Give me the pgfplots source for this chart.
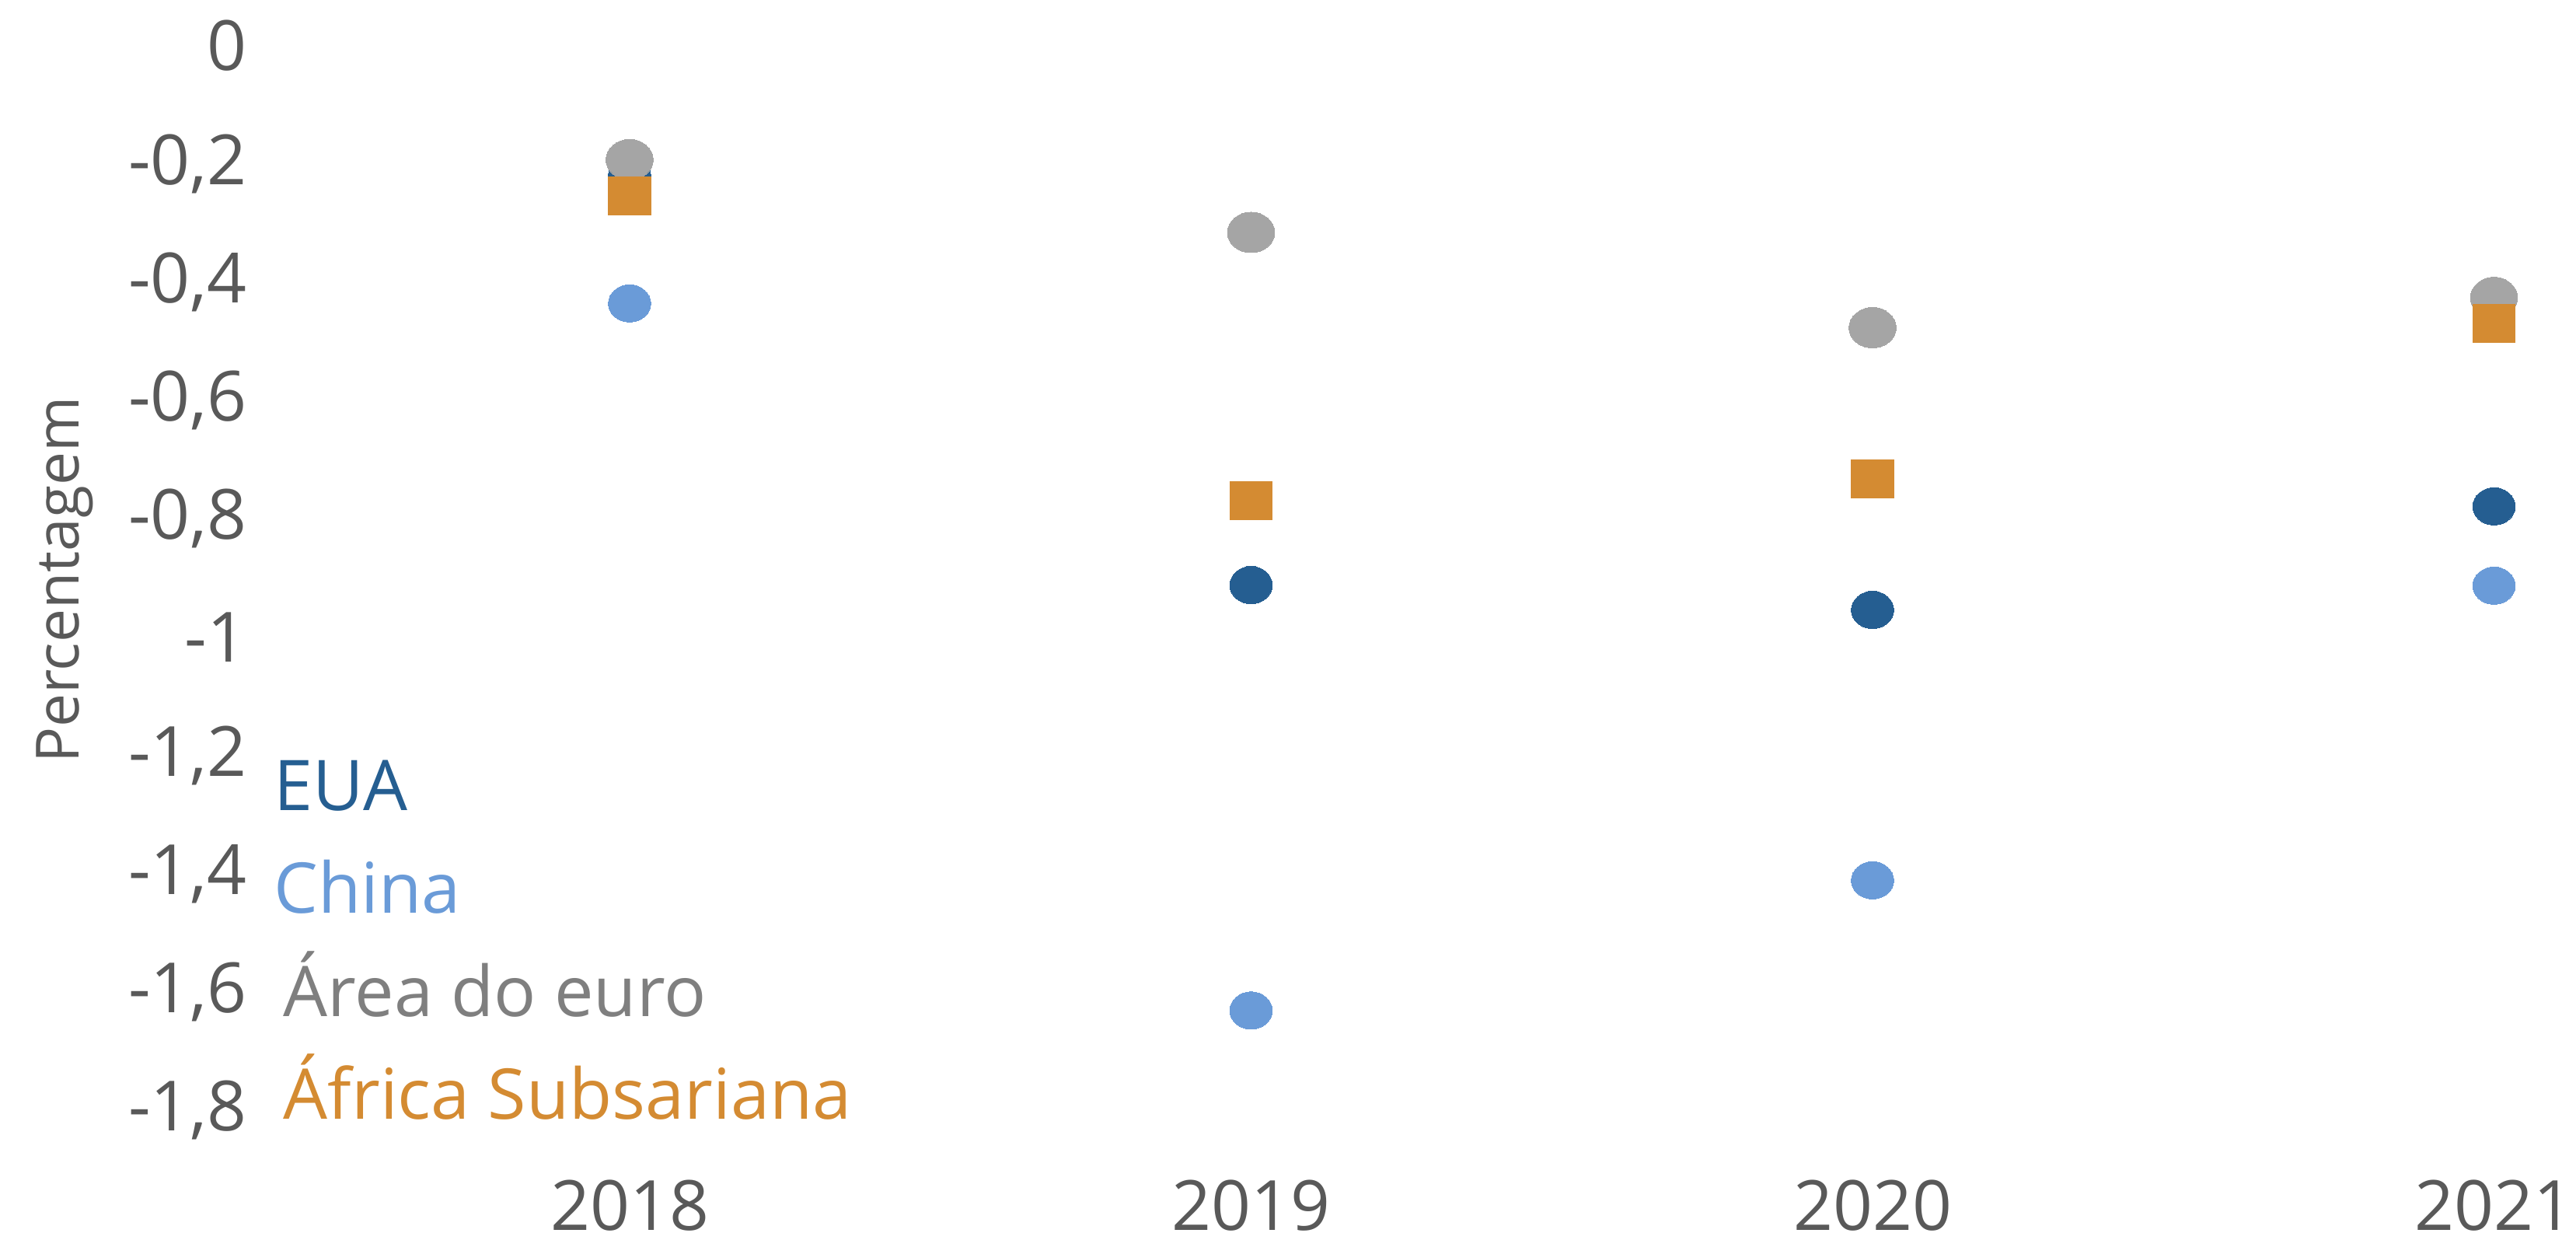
\documentclass[border=0pt]{standalone}
\usepackage{fontspec}
\setmainfont{Open Sans}
\usepackage{pgfplots}
\pgfplotsset{compat=1.18}
\definecolor{euaC}{HTML}{255E91}
\definecolor{chinaC}{HTML}{6A9BD8}
\definecolor{euroC}{HTML}{A5A5A5}
\definecolor{euroT}{HTML}{7F7F7F}
\definecolor{africaC}{HTML}{D48B32}
\definecolor{tickgray}{HTML}{595959}
\begin{document}
\begin{tikzpicture}
\useasboundingbox (0,0) rectangle (397.7pt,191.4pt);
\begin{axis}[
  at={(40.4pt,19.98pt)}, anchor=south west,
  scale only axis, width=357.3pt, height=164.4pt,
  xmin=-0.592, xmax=3.132, ymin=-1.8, ymax=0,
  clip=false,
  axis line style={draw=none}, major tick length=0pt,
  xtick={0,1,2,3}, xticklabels={2018,2019,2020,2021},
  ytick={-1.8,-1.6,-1.4,-1.2,-1,-0.8,-0.6,-0.4,-0.2,0},
  yticklabels={{-1,8},{-1,6},{-1,4},{-1,2},{-1},{-0,8},{-0,6},{-0,4},{-0,2},{0}},
  ticklabel style={font=\fontsize{10.7}{12}\selectfont, text=tickgray},
  xticklabel style={yshift=-7.2pt},
  yticklabel style={xshift=1.25pt},
  ylabel={Percentagem},
  ylabel style={at={(axis description cs:-0.0851,0.498)}, anchor=center, font=\fontsize{9.2}{11}\selectfont, text=tickgray},
  legend image code/.code={},
  legend cell align=left,
  legend style={at={(axis description cs:0.0047,0.3316)}, anchor=north west, draw=none, fill=none, inner sep=0pt, row sep=5.9pt,
    nodes={inner sep=0pt, text height=8pt, text depth=2pt, font=\fontsize{10.8}{12}\selectfont}},
]
\addplot[only marks, color=euaC, line width=0pt, mark=*, mark size=3.28pt, mark options={yscale=0.88, draw=euaC, fill=euaC}]
  coordinates {(0,-0.22) (1,-0.912) (2,-0.954) (3,-0.779)};
\addlegendentry{\textcolor{euaC}{EUA}}
\addplot[only marks, color=chinaC, line width=0pt, mark=*, mark size=3.28pt, mark options={yscale=0.88, draw=chinaC, fill=chinaC}]
  coordinates {(0,-0.436) (1,-1.631) (2,-1.411) (3,-0.913)};
\addlegendentry{\textcolor{chinaC}{China}}
\addplot[only marks, color=euroC, line width=0pt, mark=*, mark size=3.65pt, mark options={yscale=0.855, draw=euroC, fill=euroC}]
  coordinates {(0,-0.193) (1,-0.316) (2,-0.477) (3,-0.426)};
\addlegendentry{\textcolor{euroT}{\hspace*{1.5pt}Área do euro}}
\addplot[only marks, color=africaC, line width=0pt, mark=square*, mark size=3.28pt, mark options={yscale=0.896, draw=africaC, fill=africaC}]
  coordinates {(0,-0.254) (1,-0.769) (2,-0.732) (3,-0.470)};
\addlegendentry{\textcolor{africaC}{\hspace*{1.5pt}África Subsariana}}
\end{axis}
\end{tikzpicture}
\end{document}
